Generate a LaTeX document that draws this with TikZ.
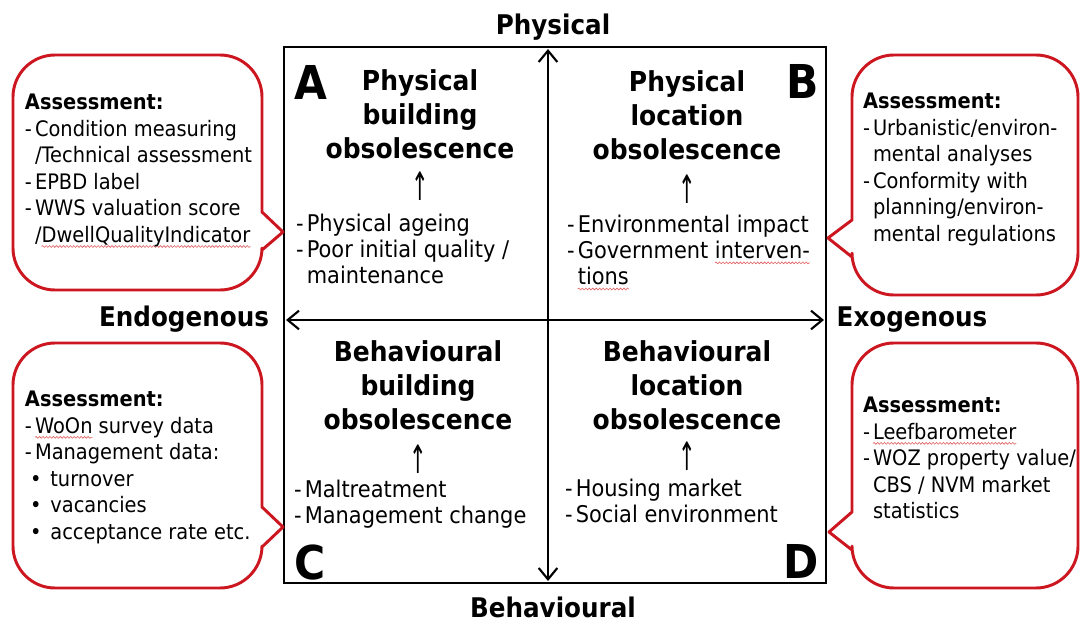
\documentclass[tikz,border=0pt]{standalone}
\usepackage{fontspec}
\setmainfont{DejaVu Sans}[FakeStretch=0.91]
\usetikzlibrary{arrows.meta,decorations.pathmorphing}
\definecolor{callred}{RGB}{204,22,32}
\definecolor{sqred}{RGB}{226,96,96}
\newlength\sqglen
\newcommand\sqg[1]{\settowidth\sqglen{#1}\rlap{\tikz[overlay,x=1pt,y=1pt]\draw[sqred,line width=0.45pt,decorate,decoration={snake,amplitude=0.7pt,segment length=2.6pt}] (0pt,-3.2pt) -- (\sqglen,-3.2pt);}#1}
\newcommand\dsh{\makebox[0.47em][l]{-}}
\newcommand\ind{\hspace*{0.47em}}
\newcommand\bul{\hspace*{0.24em}\makebox[0.95em][l]{\textbullet}}
% bubble with pointer on the right: L T R B y1 y2 tipx tipy
\newcommand\bubbleR[8]{%
  \draw[calloutbox] (#3,#5) -- (#3,{#2+42}) arc[start angle=0,end angle=-90,radius=42]
    -- ({#1+42},#2) arc[start angle=-90,end angle=-180,radius=42]
    -- (#1,{#4-42}) arc[start angle=180,end angle=90,radius=42]
    -- ({#3-42},#4) arc[start angle=90,end angle=0,radius=42]
    -- (#3,#6) -- (#7,#8) -- cycle;}
% bubble with pointer on the left
\newcommand\bubbleL[8]{%
  \draw[calloutbox] (#1,#6) -- (#1,{#4-42}) arc[start angle=180,end angle=90,radius=42]
    -- ({#3-42},#4) arc[start angle=90,end angle=0,radius=42]
    -- (#3,{#2+42}) arc[start angle=0,end angle=-90,radius=42]
    -- ({#1+42},#2) arc[start angle=-90,end angle=-180,radius=42]
    -- (#1,#5) -- (#7,#8) -- cycle;}
\tikzset{
  every node/.style={inner sep=0pt, outer sep=0pt},
  headtext/.style={font=\fontsize{20.6}{25.5}\selectfont\bfseries, align=center, anchor=north},
  bodytext/.style={font=\fontsize{17.25}{19.6}\selectfont, align=left, anchor=north west},
  calltext/.style={font=\fontsize{16}{19.9}\selectfont, align=left, anchor=north west},
  cornerletter/.style={font=\fontsize{35}{35}\selectfont\bfseries},
  axislbl/.style={font=\fontsize{20.3}{24}\selectfont\bfseries, anchor=base},
  uparr/.style={font=\fontsize{17.25}{19.6}\selectfont},
  sqframe/.style={line width=2.2pt},
  axisarrow/.style={line width=1.6pt, {Straight Barb[length=8.5pt,width=14pt,line width=1.6pt]}-{Straight Barb[length=8.5pt,width=14pt,line width=1.6pt]}},
  calloutbox/.style={draw=callred, line width=2.2pt, fill=white, line join=round},
}
\begin{document}
\begin{tikzpicture}[x=0.75pt,y=-0.75pt]
\useasboundingbox[fill=white] (0,0) rectangle (1083,624);

% frame
\coordinate (sqTL) at (284,47);
\coordinate (sqBR) at (826,583);
\draw[sqframe] (sqTL) rectangle (sqBR);

% axes
\coordinate (axTop) at (548,49);
\coordinate (axBot) at (548,581);
\coordinate (axLeft) at (286,320);
\coordinate (axRight) at (824,320);
\draw[axisarrow] (axBot) -- (axTop);
\draw[axisarrow] (axLeft) -- (axRight);

% axis labels
\node[axislbl] (lblPhys) at (553,35) {Physical};
\node[axislbl] (lblBeh) at (553,617) {Behavioural};
\node[axislbl] (lblEndo) at (184,327) {Endogenous};
\node[axislbl] (lblExo) at (912,327) {Exogenous};

% corner letters
\node[cornerletter, anchor=north west] (letA) at (294,65) {A};
\node[cornerletter, anchor=north east] (letB) at (819,64) {B};
\node[cornerletter, anchor=south west] (letC) at (294,580) {C};
\node[cornerletter, anchor=south east] (letD) at (819,578) {D};

% quadrant A
\node[headtext] (headA) at (420,70) {Physical\\building\\obsolescence};
\node[uparr] (arrA) at (420,186) {\scalebox{1}[1.7]{↑}};
\node[bodytext] (bodyA) at (296,214) {\dsh Physical ageing\\\dsh Poor initial quality /\\\ind maintenance};

% quadrant B
\node[headtext] (headB) at (687,71) {Physical\\location\\obsolescence};
\node[uparr] (arrB) at (687,189) {\scalebox{1}[1.7]{↑}};
\node[bodytext] (bodyB) at (567,215) {\dsh Environmental impact\\\dsh Government \sqg{interven-}\\\ind \sqg{tions}};

% quadrant C
\node[headtext] (headC) at (418,341) {Behavioural\\building\\obsolescence};
\node[uparr] (arrC) at (418,459) {\scalebox{1}[1.7]{↑}};
\node[bodytext] (bodyC) at (294,480) {\dsh Maltreatment\\\dsh Management change};

% quadrant D
\node[headtext] (headD) at (687,341) {Behavioural\\location\\obsolescence};
\node[uparr] (arrD) at (687,456) {\scalebox{1}[1.7]{↑}};
\node[bodytext] (bodyD) at (565,479) {\dsh Housing market\\\dsh Social environment};

% callouts
\bubbleR{13}{55}{262}{290}{212}{250}{283}{232}
\bubbleL{852}{55}{1078}{295}{220}{257}{828}{238}
\bubbleR{13}{343}{262}{588}{507}{547}{283}{527}
\bubbleL{852}{343}{1078}{588}{512}{550}{829}{532}

\node[calltext] (noteA) at (25,94) {\textbf{Assessment:}\\\dsh Condition measuring\\\ind /Technical assessment\\\dsh EPBD label\\\dsh WWS valuation score\\\ind /\sqg{DwellQualityIndicator}};
\node[calltext] (noteB) at (863,93) {\textbf{Assessment:}\\\dsh Urbanistic/environ-\\\ind mental analyses\\\dsh Conformity with\\\ind planning/environ-\\\ind mental regulations};
\node[calltext] (noteC) at (25,391) {\textbf{Assessment:}\\\dsh \sqg{WoOn} survey data\\\dsh Management data:\\\bul turnover\\\bul vacancies\\\bul acceptance rate etc.};
\node[calltext] (noteD) at (863,397) {\textbf{Assessment:}\\\dsh \sqg{Leefbarometer}\\\dsh WOZ property value/\\\ind CBS / NVM market\\\ind statistics};
\end{tikzpicture}
\end{document}
